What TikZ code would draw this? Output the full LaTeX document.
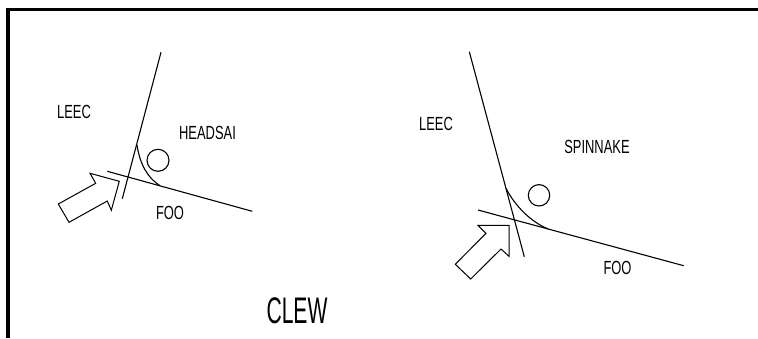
\documentclass[tikz,border=0pt]{standalone}
\usepackage{fontspec}
\setmainfont[FakeStretch=0.68]{Liberation Sans}
\newfontfamily\clewfont[FakeStretch=0.57]{Liberation Sans}
\usepackage{tikz}
\usetikzlibrary{positioning}
\tikzset{
  sailline/.style={draw=black, line width=1.1pt},
  sailarrow/.style={draw=black, line width=1.0pt, fill=white, line join=miter},
  sailname/.style={font=\fontsize{19}{19}\selectfont, inner sep=0pt, text=black},
  clewname/.style={font=\clewfont\fontsize{37}{37}\selectfont, inner sep=0pt, text=black}
}

\begin{document}
\begin{tikzpicture}[x=1pt, y=-1pt]
  \useasboundingbox (0,0) rectangle (758,338);
  % frame
  \draw[line width=3.6pt, line join=miter] (8,338) -- (8,9.3) -- (758,9.3);

  % headsail
  \draw[sailline] (161,52.3) -- (122.3,198.7);
  \draw[sailline] (107.3,171.3) -- (252.3,211.3);
  \draw[sailline] (137,145) .. controls (140,165) and (148,178) .. (160,185.7);
  \draw[sailline] (158,160.3) circle (11);
  \draw[sailarrow] (58.3,204) -- (69,222.3) -- (107.3,201) -- (111.3,210.3) -- (119.3,181.3) -- (90,173.3) -- (95.7,183.3) -- cycle;
  \node[sailname] (leechA) at (74,112) {LEEC};
  \node[sailname] (headsail) at (207.5,132.5) {HEADSAI};
  \node[sailname] (footA) at (170,213) {FOO};

  % spinnaker
  \draw[sailline] (469.3,51.7) -- (524.3,256.7);
  \draw[sailline] (478,210) -- (683.7,265.7);
  \draw[sailline] (506,188.3) .. controls (515,206) and (531,222) .. (548.3,229);
  \draw[sailline] (539,195.3) circle (10.7);
  \draw[sailarrow] (455.3,264.3) -- (470.7,279) -- (501,249) -- (509,256.3) -- (509,225.3) -- (478,225.3) -- (486,233.3) -- cycle;
  \node[sailname] (leechB) at (436,124) {LEEC};
  \node[sailname] (spinnaker) at (597,147) {SPINNAKE};
  \node[sailname] (footB) at (617.5,267.5) {FOO};

  % title
  \node[clewname] (clew) at (297,311) {CLEW};
\end{tikzpicture}
\end{document}
